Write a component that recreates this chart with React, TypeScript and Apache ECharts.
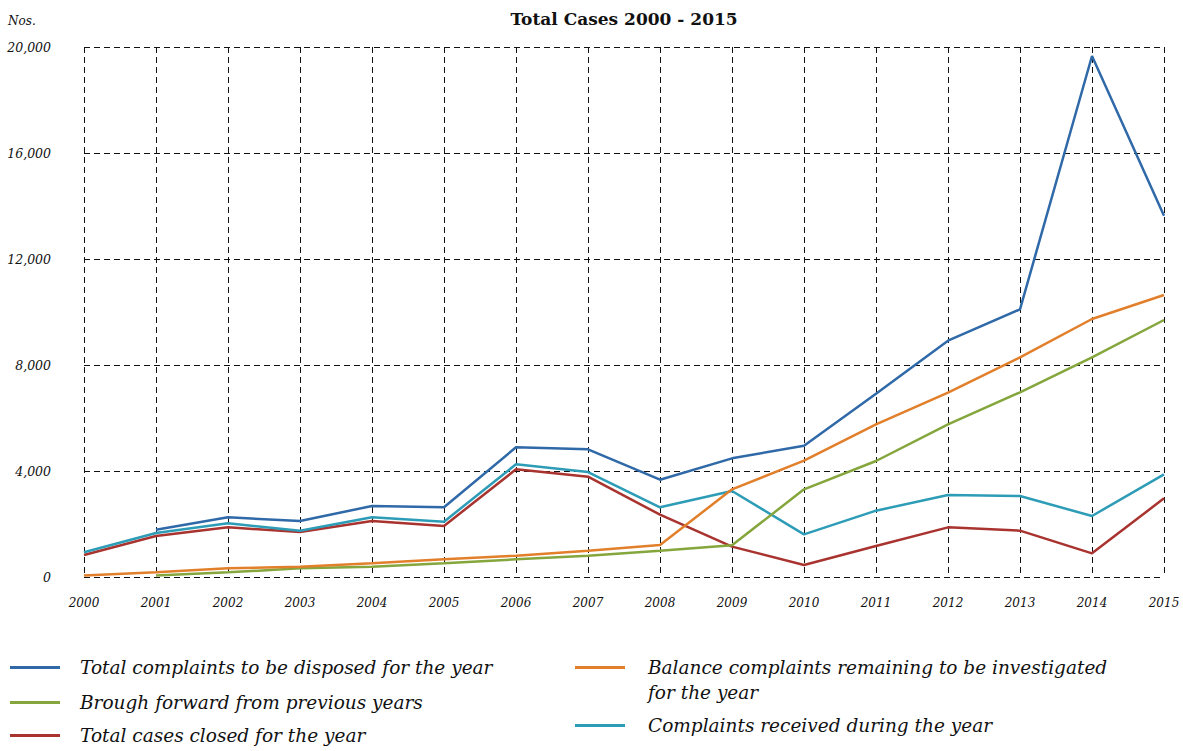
import React, { useEffect, useRef } from "react";
import * as echarts from "echarts";

const years = ["2000","2001","2002","2003","2004","2005","2006","2007","2008","2009","2010","2011","2012","2013","2014","2015"];
const totalToDispose = [null, 1785, 2253, 2113, 2679, 2630, 4894, 4819, 3672, 4478, 4956, 6918, 8918, 10101, 19660, 13635];
const balanceRemaining = [60, 176, 327, 390, 516, 667, 805, 994, 1208, 3308, 4390, 5761, 6956, 8289, 9736, 10642];
const broughtForward = [null, 60, 176, 327, 390, 516, 667, 805, 994, 1195, 3308, 4377, 5761, 6968, 8289, 9698];
const complaintsReceived = [932, 1660, 2025, 1748, 2253, 2088, 4252, 3962, 2630, 3245, 1610, 2503, 3094, 3057, 2302, 3874];
const casesClosed = [830, 1547, 1874, 1698, 2113, 1925, 4063, 3786, 2352, 1145, 453, 1170, 1874, 1748, 893, 2968];
const yTicks = [0, 4000, 8000, 12000, 16000, 20000];

const seriesNames = [
  "Total complaints to be disposed for the year",
  "Balance complaints remaining to be investigated for the year",
  "Brough forward from previous years",
  "Complaints received during the year",
  "Total cases closed for the year",
];
const colors = ["#2f69a8", "#e27f2b", "#84a63c", "#2d9cb6", "#a8332f"];
const FONT = "DejaVu Serif";

export default function App() {
  const ref = useRef<HTMLDivElement>(null);
  useEffect(() => {
    if (!ref.current) return;
    const chart = echarts.init(ref.current, null, { renderer: "svg" });
    const data = [totalToDispose, balanceRemaining, broughtForward, complaintsReceived, casesClosed];
    const legendPos = [
      { left: 10, top: 658, pad: 15 },
      { left: 575, top: 658, pad: 18 },
      { left: 10, top: 693, pad: 15 },
      { left: 575, top: 716, pad: 18 },
      { left: 10, top: 726, pad: 15 },
    ];
    chart.setOption({
      animation: false,
      backgroundColor: "#ffffff",
      title: {
        text: "Total Cases 2000 - 2015",
        left: 619,
        textAlign: "center",
        top: 5,
        textStyle: { fontFamily: FONT, fontSize: 17, fontWeight: "bold", color: "#111" },
      },
      grid: { left: 84, right: 19, top: 47, bottom: 174, containLabel: false },
      xAxis: {
        type: "category",
        data: years,
        boundaryGap: false,
        axisLine: { show: false },
        axisTick: { show: false },
        axisLabel: {
          margin: 20,
          fontFamily: FONT,
          fontStyle: "italic",
          fontSize: 12,
          color: "#111",
          interval: 0,
        },
        splitLine: { show: true, lineStyle: { type: [6, 4], color: "#111", width: 1 } },
      },
      yAxis: {
        type: "value",
        min: 0,
        max: 20000,
        interval: 4000,
        name: "Nos.",
        nameLocation: "end",
        nameGap: 20,
        nameTextStyle: { fontFamily: FONT, fontStyle: "italic", fontSize: 12, color: "#111", align: "left", padding: [0, 0, 0, -76] },
        axisLine: { show: false },
        axisTick: { show: false },
        axisLabel: {
          margin: 33,
          fontFamily: FONT,
          fontStyle: "italic",
          fontSize: 12.5,
          color: "#111",
          formatter: (v: number) => (yTicks.includes(v) ? v.toLocaleString("en-US") : ""),
        },
        splitLine: { show: true, lineStyle: { type: [6, 4], color: "#111", width: 1 } },
      },
      legend: seriesNames.map((n, i) => ({
        data: [n],
        left: legendPos[i].left,
        top: legendPos[i].top,
        padding: 0,
        icon: "rect",
        itemWidth: 50,
        itemHeight: 3,
        selectedMode: false,
        formatter: (name: string) =>
          name === seriesNames[1] ? "Balance complaints remaining to be investigated" : name,
        textStyle: { fontFamily: FONT, fontStyle: "italic", fontSize: 18.5, color: "#111", padding: [0, 0, 0, legendPos[i].pad] },
      })),
      graphic: [
        {
          type: "text",
          left: 648,
          top: 683,
          style: { text: "for the year", fontFamily: FONT, fontStyle: "italic", fontSize: 18.5, fill: "#111" },
        },
      ],
      series: seriesNames.map((n, i) => ({
        name: n,
        type: "line",
        data: data[i],
        showSymbol: false,
        symbol: "none",
        connectNulls: false,
        lineStyle: { color: colors[i], width: 2.5 },
        itemStyle: { color: colors[i] },
        z: 10 - i,
      })),
    });
    return () => chart.dispose();
  }, []);
  return <div ref={ref} style={{ position: "fixed", left: 0, top: 0, width: 1183, height: 751 }} />;
}
